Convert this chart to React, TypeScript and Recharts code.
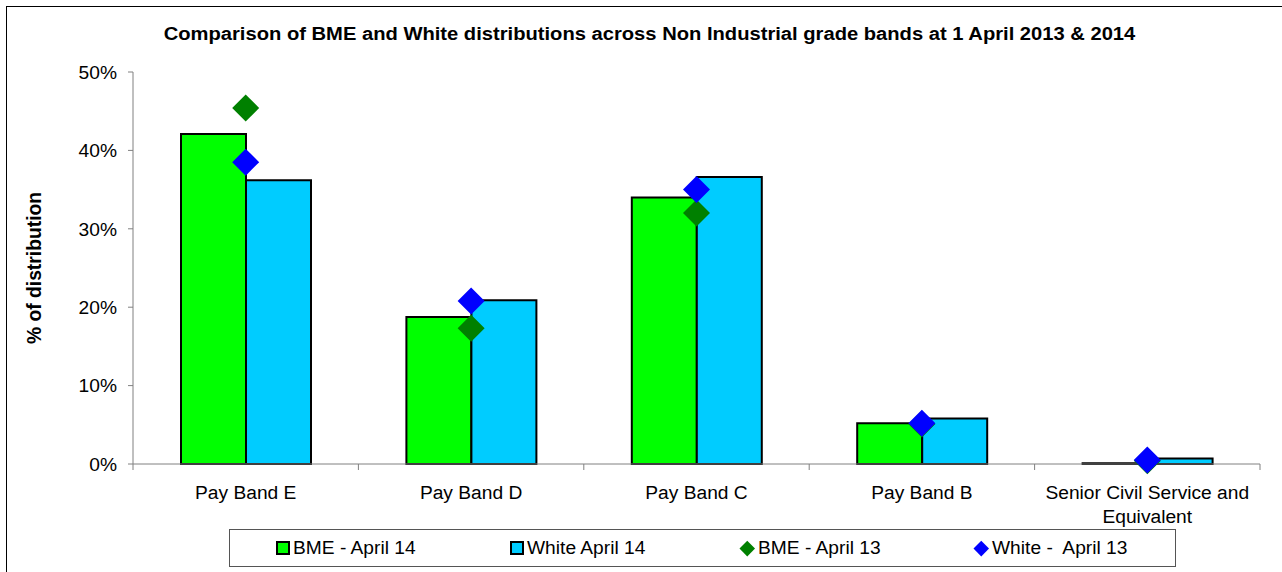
import React from 'react';
import { ComposedChart, Bar, Line, XAxis, YAxis, Text } from 'recharts';

// Grade bands and distribution percentages
const bands = ['Pay Band E', 'Pay Band D', 'Pay Band C', 'Pay Band B', 'Senior Civil Service and Equivalent'];
const bmeApr14 = [42.1, 18.75, 34.0, 5.2, 0.1];
const whiteApr14 = [36.2, 20.9, 36.6, 5.8, 0.7];
const bmeApr13 = [45.4, 17.3, 32.0, 5.1, 0.4];
const whiteApr13 = [38.5, 20.8, 35.0, 5.2, 0.5];
const yTicks = [0, 10, 20, 30, 40, 50];

const chartData = bands.map((band, i) => ({
  band,
  bme14: bmeApr14[i],
  white14: whiteApr14[i],
  bme13: bmeApr13[i],
  white13: whiteApr13[i],
}));

const WIDTH = 1282;
const HEIGHT = 572;
const MARGIN = { top: 72, right: 22, bottom: 48, left: 0 };
const Y_AXIS_W = 133;
const X_AXIS_H = 60;
const AXIS_Y = HEIGHT - MARGIN.bottom - X_AXIS_H;
const HALF_BAND = (WIDTH - MARGIN.left - MARGIN.right - Y_AXIS_W) / bands.length / 2;

const FONT = 'Arial, "Liberation Sans", sans-serif';
const TEXT_SIZE = 19.2;
const AXIS_GREY = '#808080';

const GREEN = '#00ff00';
const CYAN = '#00ccff';
const DARK_GREEN = '#008000';
const BLUE = '#0000ff';

// x-axis: tick marks sit on the band boundaries, labels wrap under the band centre
const BandTick = (props: any) => {
  const { x, payload, index, visibleTicksCount } = props;
  return (
    <g>
      <line x1={x - HALF_BAND} x2={x - HALF_BAND} y1={AXIS_Y} y2={AXIS_Y + 6} stroke={AXIS_GREY} />
      {index === visibleTicksCount - 1 && (
        <line x1={x + HALF_BAND} x2={x + HALF_BAND} y1={AXIS_Y} y2={AXIS_Y + 6} stroke={AXIS_GREY} />
      )}
      <Text
        x={x}
        y={AXIS_Y + 21}
        width={218}
        textAnchor="middle"
        verticalAnchor="start"
        lineHeight={24}
        fontSize={TEXT_SIZE}
        fontFamily={FONT}
        fill="#000"
      >
        {payload.value}
      </Text>
    </g>
  );
};

const makeDiamond = (color: string) => (props: any) => {
  const { cx, cy, index } = props;
  if (cx == null || cy == null) return <g key={index} />;
  const r = 13.5;
  return (
    <polygon
      key={index}
      points={`${cx},${cy - r} ${cx + r},${cy} ${cx},${cy + r} ${cx - r},${cy}`}
      fill={color}
    />
  );
};

const legendItems = [
  { label: 'BME - April 14', color: GREEN, kind: 'square' },
  { label: 'White April 14', color: CYAN, kind: 'square' },
  { label: 'BME - April 13', color: DARK_GREEN, kind: 'diamond' },
  { label: 'White -  April 13', color: BLUE, kind: 'diamond' },
];

const LegendBox = () => (
  <div
    style={{
      position: 'absolute',
      left: 229,
      top: 529,
      width: 947,
      height: 38,
      border: '1px solid #555',
      display: 'flex',
      alignItems: 'center',
      paddingLeft: 47,
      boxSizing: 'border-box',
      fontFamily: FONT,
      fontSize: TEXT_SIZE,
      whiteSpace: 'pre',
      overflow: 'hidden',
    }}
  >
    {legendItems.map((item) => (
      <div key={item.label} style={{ width: 234, flexShrink: 0, display: 'flex', alignItems: 'center' }}>
        {item.kind === 'square' ? (
          <span
            style={{
              width: 10,
              height: 10,
              background: item.color,
              border: '2px solid #000',
              marginLeft: -1,
              marginRight: 3,
            }}
          />
        ) : (
          <span
            style={{
              width: 16,
              height: 16,
              display: 'flex',
              alignItems: 'center',
              justifyContent: 'center',
              marginLeft: -6,
              marginRight: 3,
            }}
          >
            <span style={{ width: 10.5, height: 10.5, background: item.color, transform: 'rotate(45deg)' }} />
          </span>
        )}
        <span>{item.label}</span>
      </div>
    ))}
  </div>
);

export default function App() {
  return (
    <div
      style={{
        position: 'absolute',
        left: 0,
        top: 0,
        width: WIDTH,
        height: HEIGHT,
        overflow: 'hidden',
        background: '#fff',
        fontFamily: FONT,
      }}
    >
      <div
        style={{
          position: 'absolute',
          left: 6,
          top: 6,
          width: WIDTH + 20,
          height: HEIGHT + 20,
          border: '1px solid #000',
        }}
      />
      <div
        style={{
          position: 'absolute',
          left: 0,
          top: 25,
          width: 1299,
          textAlign: 'center',
          fontWeight: 'bold',
          fontSize: 18,
          lineHeight: '18px',
          whiteSpace: 'nowrap',
          transform: 'scaleX(1.12)',
          transformOrigin: '649.5px 50%',
        }}
      >
        Comparison of BME and White distributions across Non Industrial grade bands at 1 April 2013 &amp; 2014
      </div>
      <div style={{ position: 'absolute', left: 0, top: 0 }}>
        <ComposedChart
          width={WIDTH}
          height={HEIGHT}
          data={chartData}
          margin={MARGIN}
          barGap={0}
          barCategoryGap={48}
        >
          <XAxis
            dataKey="band"
            height={X_AXIS_H}
            stroke={AXIS_GREY}
            tickLine={false}
            interval={0}
            tick={<BandTick />}
          />
          <YAxis
            width={Y_AXIS_W}
            domain={[0, 50]}
            ticks={yTicks}
            tickFormatter={(v) => `${v}%`}
            stroke={AXIS_GREY}
            tickSize={5}
            tickMargin={11}
            tick={{ fill: '#000', fontSize: TEXT_SIZE, fontFamily: FONT }}
            label={{
              value: '% of distribution',
              angle: -90,
              position: 'center',
              dx: -32,
              style: { fontWeight: 'bold', fontSize: 19.3, fill: '#000', fontFamily: FONT },
            }}
          />
          <Bar dataKey="bme14" name="BME - April 14" fill={GREEN} stroke="#000" strokeWidth={2} isAnimationActive={false} />
          <Bar dataKey="white14" name="White April 14" fill={CYAN} stroke="#000" strokeWidth={2} isAnimationActive={false} />
          <Line
            dataKey="bme13"
            name="BME - April 13"
            stroke="none"
            dot={makeDiamond(DARK_GREEN)}
            activeDot={false}
            isAnimationActive={false}
          />
          <Line
            dataKey="white13"
            name="White -  April 13"
            stroke="none"
            dot={makeDiamond(BLUE)}
            activeDot={false}
            isAnimationActive={false}
          />
        </ComposedChart>
      </div>
      <LegendBox />
    </div>
  );
}
